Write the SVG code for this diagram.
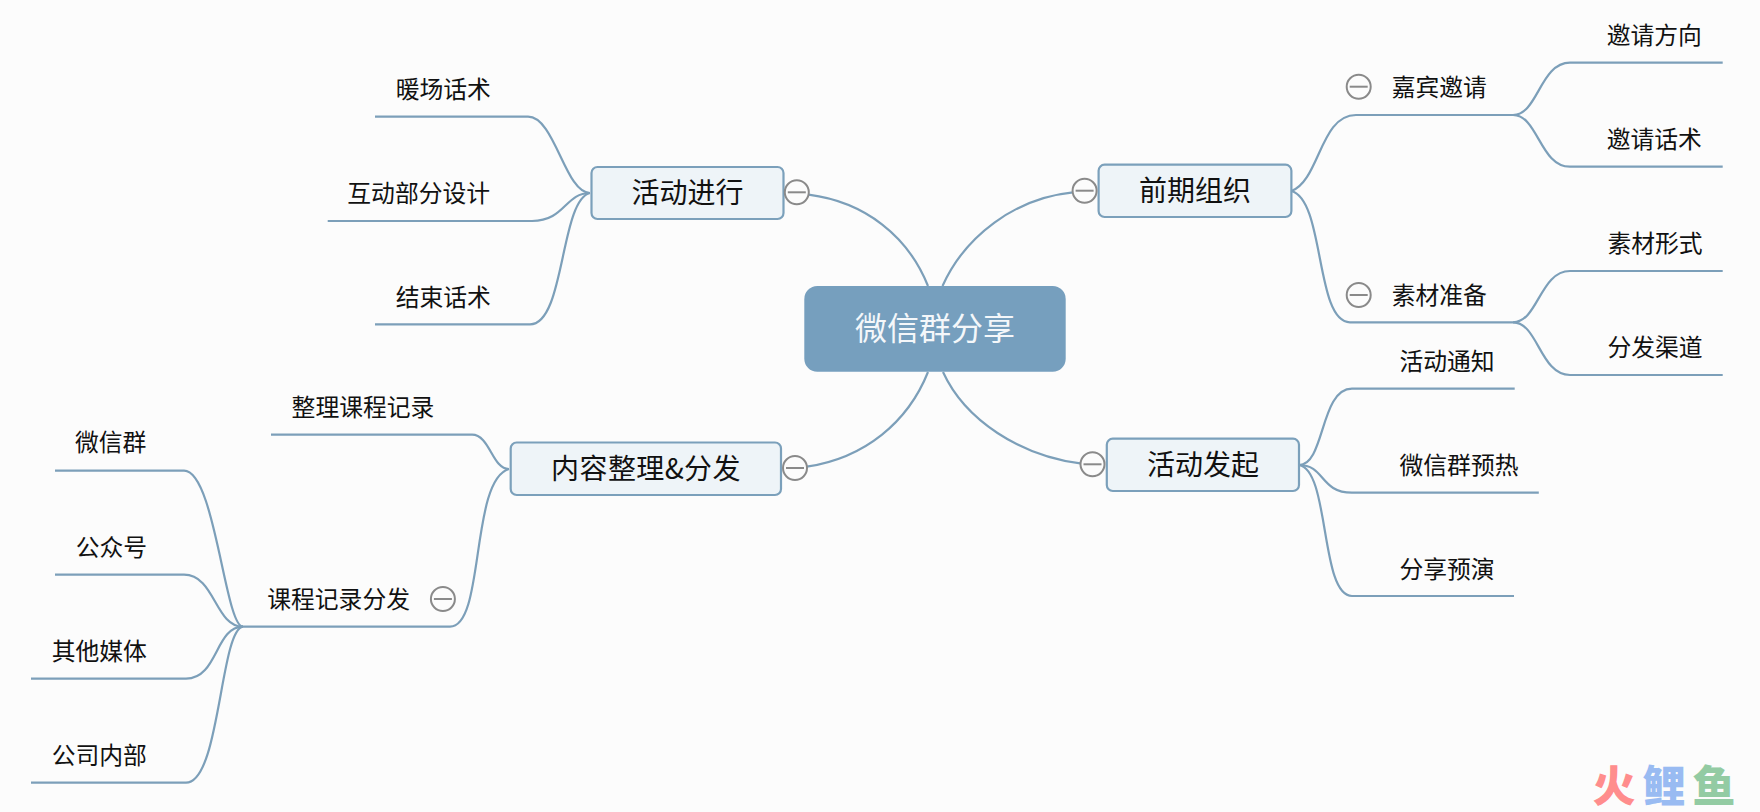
<svg xmlns="http://www.w3.org/2000/svg" width="1760" height="812" viewBox="0 0 1760 812">
<style>
text{font-family:"Noto Sans CJK SC","Noto Sans",sans-serif;text-anchor:middle;fill:#111}
.c path{fill:none;stroke:#7c9fb9;stroke-width:2.200}
.b{fill:#eef4f8;stroke:#7ba0bb;stroke-width:2.200}
.t{font-size:28px}
.s{font-size:23.800px}
.m circle{fill:#fcfcfc;stroke:#8a8a8a;stroke-width:2}
.m path{stroke:#8a8a8a;stroke-width:2;fill:none}
</style>
<defs>
<g id="minus" class="m"><circle r="12"/><path d="M-9 0H9"/></g>
</defs>
<rect width="1760" height="812" fill="#fcfcfc"/>
<g id="connectors" class="c">
<path d="M942.500 286C965 236 1015 198 1073 192.300"/>
<path d="M928 286C908 236 865 202 808.600 194.700"/>
<path d="M928 372C908 422 865 458 806.800 466.700"/>
<path d="M943 372C965 420 1020 456 1081.800 463.700"/>
<path d="M1291.400 191C1320 180 1320 115 1356 115H1513C1538 115 1540 62.700 1570 62.700H1722.700"/>
<path d="M1513 115C1538 115 1540 166.700 1570 166.700H1722.700"/>
<path d="M1291.400 191C1325 200 1315 322.300 1350 322.300H1513C1538 322.300 1540 271 1570 271H1722.700"/>
<path d="M1513 322.300C1538 322.300 1540 375 1570 375H1722.700"/>
<path d="M1299 465C1325 465 1320 388.700 1352 388.700H1514.700"/>
<path d="M1299 465C1325 465 1320 492.700 1352 492.700H1538.800"/>
<path d="M1299 465C1330 470 1320 596 1352 596H1514"/>
<path d="M590 193C565 193 555 116.700 528 116.700H375"/>
<path d="M590 193C565 193 565 221 532 221H327.700"/>
<path d="M590 193C560 200 565 324.400 530 324.400H375"/>
<path d="M509 469C492 469 490 434.700 472 434.700H271"/>
<path d="M509 469C470 480 485 626.700 450 626.700H243C225 626.700 215 470.700 184 470.700H55"/>
<path d="M243 626.700C215 626.700 215 574.700 184 574.700H55"/>
<path d="M243 626.700C215 626.700 218 678.700 186 678.700H31"/>
<path d="M243 626.700C220 630 220 782.700 186 782.700H31"/>
</g>
<g id="root"><rect x="804.300" y="286" width="261.400" height="85.700" rx="13" fill="#769fbe"/><text x="935" y="340" style="font-size:32px;fill:#f4f7fa">微信群分享</text></g>
<g id="n1"><rect class="b" x="1098.600" y="164.700" width="192.800" height="52.300" rx="6"/><text class="t" x="1195" y="201">前期组织</text><use href="#minus" x="1084.600" y="190.700"/></g>
<g id="n2"><rect class="b" x="1106.800" y="438.700" width="192.200" height="52.300" rx="6"/><text class="t" x="1203" y="475">活动发起</text><use href="#minus" x="1092.500" y="464.300"/></g>
<g id="n3"><rect class="b" x="591.500" y="167" width="192" height="52" rx="6"/><text class="t" x="687.500" y="203">活动进行</text><use href="#minus" x="796.800" y="192.300"/></g>
<g id="n4"><rect class="b" x="510.700" y="442.500" width="270.300" height="52.500" rx="6"/><text class="t" x="646" y="479" style="letter-spacing:.4px">内容整理&amp;分发</text><use href="#minus" x="795" y="468"/></g>
<g id="n5"><text class="s" x="1439.300" y="96">嘉宾邀请</text><use href="#minus" x="1358.700" y="86.700"/></g>
<g id="n6"><text class="s" x="1439.300" y="304">素材准备</text><use href="#minus" x="1358.700" y="295"/></g>
<g id="n7"><text class="s" x="1654.300" y="43.500">邀请方向</text></g>
<g id="n8"><text class="s" x="1654.300" y="147.500">邀请话术</text></g>
<g id="n9"><text class="s" x="1655" y="252">素材形式</text></g>
<g id="n10"><text class="s" x="1655" y="356">分发渠道</text></g>
<g id="n11"><text class="s" x="1447" y="370">活动通知</text></g>
<g id="n12"><text class="s" x="1459" y="473.500">微信群预热</text></g>
<g id="n13"><text class="s" x="1447" y="577.500">分享预演</text></g>
<g id="n14"><text class="s" x="443.300" y="97.500">暖场话术</text></g>
<g id="n15"><text class="s" x="418.700" y="201.500">互动部分设计</text></g>
<g id="n16"><text class="s" x="443.300" y="306">结束话术</text></g>
<g id="n17"><text class="s" x="363" y="415.500">整理课程记录</text></g>
<g id="n18"><text class="s" x="338.600" y="607.500">课程记录分发</text><use href="#minus" x="442.900" y="599"/></g>
<g id="n19"><text class="s" x="110.700" y="451">微信群</text></g>
<g id="n20"><text class="s" x="111.400" y="556">公众号</text></g>
<g id="n21"><text class="s" x="99.300" y="660">其他媒体</text></g>
<g id="n22"><text class="s" x="99.300" y="764">公司内部</text></g>
<g id="watermark" style="font-size:43px;font-weight:900"><text x="1614" y="802" style="font-family:'Liberation Sans','Noto Sans CJK SC',sans-serif;fill:#ff8d8d">火</text><text x="1664" y="802" style="font-family:'Liberation Sans','Noto Sans CJK SC',sans-serif;fill:#99bbf2">鲤</text><text x="1714" y="802" style="font-family:'Liberation Sans','Noto Sans CJK SC',sans-serif;fill:#93cba3">鱼</text></g>
</svg>
